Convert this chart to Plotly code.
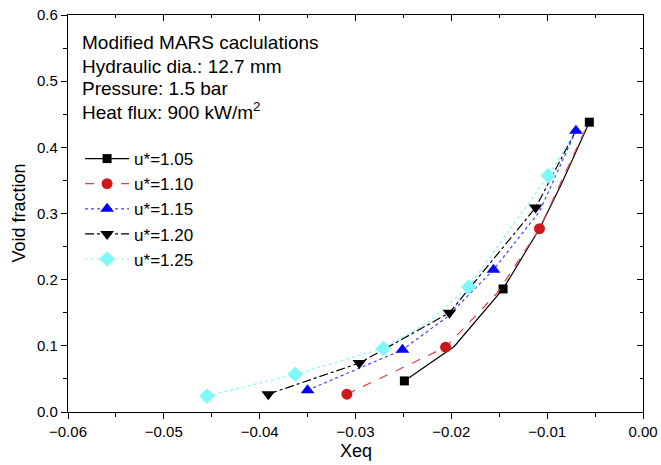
import plotly.graph_objects as go

# Data (line vertices incl. points without symbols; marker flags)
names = ["u*=1.05", "u*=1.10", "u*=1.15", "u*=1.20", "u*=1.25"]

x105 = [-0.0249, -0.0197, -0.0146, -0.0108, -0.0085, -0.0056]
y105 = [0.047, 0.099, 0.186, 0.277, 0.345, 0.438]
m105 = [1, 0, 1, 0, 0, 1]

x110 = [-0.0309, -0.0206, -0.0152, -0.0108, -0.0057]
y110 = [0.027, 0.098, 0.180, 0.277, 0.437]
m110 = [1, 1, 0, 1, 0]

x115 = [-0.0350, -0.0251, -0.0205, -0.0156, -0.0108, -0.0070]
y115 = [0.033, 0.094, 0.143, 0.215, 0.303, 0.425]
m115 = [1, 1, 0, 1, 0, 1]

x120 = [-0.0391, -0.0296, -0.0202, -0.0112, -0.0072]
y120 = [0.027, 0.074, 0.150, 0.309, 0.420]
m120 = [1, 1, 1, 1, 0]

x125 = [-0.0455, -0.0363, -0.0271, -0.0225, -0.0182, -0.0099, -0.0072]
y125 = [0.024, 0.057, 0.096, 0.135, 0.189, 0.357, 0.420]
m125 = [1, 1, 1, 0, 1, 1, 0]

series = [
    (x105, y105, m105, "black", "black", "solid", "square", 9),
    (x110, y110, m110, "#e04040", "#cc1a1a", "dash", "circle", 11),
    (x115, y115, m115, "#4040ff", "#0000ff", "dot", "triangle-up", 12),
    (x120, y120, m120, "black", "black", "dashdot", "triangle-down", 12),
    (x125, y125, m125, "#80f8f8", "#80f8f8", "dot", "diamond", 12),
]

fig = go.Figure()
for name, (xs, ys, ms, lc, mc, dash, sym, sz) in zip(names, series):
    fig.add_trace(go.Scatter(x=xs, y=ys, mode="lines", showlegend=False,
                             line=dict(color=lc, width=1.2, dash=dash)))
    mx = [a for a, f in zip(xs, ms) if f]
    my = [b for b, f in zip(ys, ms) if f]
    fig.add_trace(go.Scatter(x=mx, y=my, mode="markers", showlegend=False,
                             marker=dict(symbol=sym, size=sz, color=mc)))
    fig.add_trace(go.Scatter(x=[None], y=[None], mode="lines+markers", name=name,
                             line=dict(color=lc, width=1.2, dash=dash),
                             marker=dict(symbol=sym, size=sz, color=mc)))

font = "Liberation Sans, Arial, sans-serif"
fig.update_layout(
    width=661, height=465,
    margin=dict(l=68, r=18, t=15, b=53),
    paper_bgcolor="white", plot_bgcolor="white",
    font=dict(family=font, color="black"),
    showlegend=True,
    legend=dict(x=0.021, y=0.6825, xanchor="left", yanchor="top",
                font=dict(size=17, family=font), bgcolor="rgba(0,0,0,0)",
                itemwidth=44, tracegroupgap=0),
    xaxis=dict(range=[-0.06, 0.0], dtick=0.01, tickformat=".2f", automargin=False,
               showgrid=False, zeroline=False, showline=True, linecolor="black",
               linewidth=1.3, mirror=True, ticks="outside", ticklen=6, tickwidth=1.3,
               tickcolor="black", tickfont=dict(size=15),
               minor=dict(dtick=0.005, ticks="outside", ticklen=4, tickcolor="black", tickwidth=1)),
    yaxis=dict(range=[0, 0.6], dtick=0.1, tickformat=".1f", automargin=False,
               showgrid=False, zeroline=False, showline=True, linecolor="black",
               linewidth=1.3, mirror=True, ticks="outside", ticklen=6, tickwidth=1.3,
               tickcolor="black", tickfont=dict(size=15),
               minor=dict(dtick=0.05, ticks="outside", ticklen=4, tickcolor="black", tickwidth=1)),
    xaxis2=dict(range=[-0.06, 0.0], dtick=0.01, overlaying="x", side="top", anchor="y",
                automargin=False,
                showticklabels=False, showgrid=False, zeroline=False, ticks="inside",
                ticklen=6, tickcolor="black", tickwidth=1.3,
                minor=dict(dtick=0.005, ticks="inside", ticklen=3, tickcolor="black")),
    yaxis2=dict(range=[0, 0.6], dtick=0.1, overlaying="y", side="right", anchor="x",
                automargin=False,
                showticklabels=False, showgrid=False, zeroline=False, ticks="inside",
                ticklen=6, tickcolor="black", tickwidth=1.3,
                minor=dict(dtick=0.05, ticks="inside", ticklen=3, tickcolor="black")),
)

# Invisible trace to activate the overlay axes
fig.add_trace(go.Scatter(x=[None], y=[None], xaxis="x2", yaxis="y2", showlegend=False,
                         mode="markers", hoverinfo="skip"))

info = ["Modified MARS caclulations", "Hydraulic dia.: 12.7 mm", "Pressure: 1.5 bar",
        "Heat flux: 900 kW/m<sup>2</sup>"]
ys_txt = [42, 66, 89, 111]
for t, yp in zip(info, ys_txt):
    fig.add_annotation(text=t, xref="paper", yref="paper", x=(80 - 68) / 575,
                       y=(412 - yp) / 397, xanchor="left", yanchor="middle",
                       showarrow=False, font=dict(size=19, family=font))

fig.add_annotation(text="Xeq", xref="paper", yref="paper", x=0.5, y=(412 - 451) / 397,
                   xanchor="center", yanchor="middle", showarrow=False,
                   font=dict(size=18, family=font))
fig.add_annotation(text="Void fraction", xref="paper", yref="paper", x=(18 - 68) / 575,
                   y=0.5, xanchor="center", yanchor="middle", textangle=-90,
                   showarrow=False, font=dict(size=18, family=font))

fig.write_html("out.html")
